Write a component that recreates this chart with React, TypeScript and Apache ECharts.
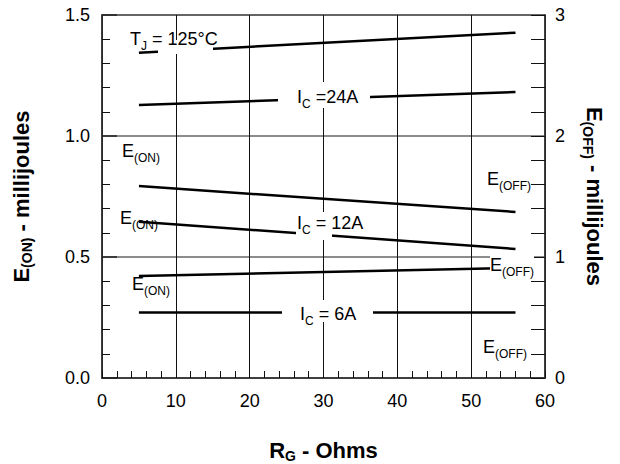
import React, { useEffect, useRef } from 'react';
import * as echarts from 'echarts';

// Gate resistance (Ohms) at the two ends of each curve
const rgOhms = [5, 56];
// Switching energy curves (left-axis millijoule scale)
const ic24Upper = [1.344, 1.427];
const ic24Lower = [1.128, 1.182];
const ic12Upper = [0.793, 0.686];
const ic12Lower = [0.646, 0.533];
const ic6Upper = [0.421, 0.455];
const ic6Lower = [0.271, 0.271];

const xTickLabels = ['0', '10', '20', '30', '40', '50', '60'];
const leftTickLabels = ['0.0', '0.5', '1.0', '1.5'];
const rightTickLabels = ['0', '1', '2', '3'];

const FONT = '"Liberation Sans", Arial, Helvetica, sans-serif';

export default function App() {
  const ref = useRef<HTMLDivElement>(null);
  useEffect(() => {
    const chart = echarts.init(ref.current as HTMLDivElement, null, { renderer: 'svg' });
    const rich: any = {
      m: { fontSize: 18, fontFamily: FONT, color: '#000', lineHeight: 28, verticalAlign: 'middle' },
      s: { fontSize: 12, fontFamily: FONT, color: '#000', lineHeight: 14, padding: [14, 0, 0, 0] },
    };
    const nameRich: any = {
      b: { fontSize: 22, fontWeight: 'bold', fontFamily: FONT, color: '#000', lineHeight: 30, verticalAlign: 'middle' },
      s: { fontSize: 14, fontWeight: 'bold', fontFamily: FONT, color: '#000', lineHeight: 16, padding: [12, 0, 0, 0] },
    };
    const mk = (name: string, vals: number[]) => ({
      type: 'line',
      name,
      data: rgOhms.map((x, i) => [x, vals[i]]),
      symbol: 'none',
      showSymbol: false,
      silent: true,
      lineStyle: { color: '#000', width: 2.5 },
      z: 3,
    });
    const label = (x: number, y: number, main: string, sub: string, rest = '', bg = false) => ({
      type: 'text',
      x,
      y,
      z: 100,
      style: {
        text: `{m|${main}}{s|${sub}}` + (rest ? `{m|${rest}}` : ''),
        rich,
        align: 'left',
        verticalAlign: 'middle',
        backgroundColor: bg ? '#fff' : 'transparent',
      },
    });
    const mask = (x: number, y: number, w: number, h: number) => ({
      type: 'rect',
      z: 50,
      shape: { x, y, width: w, height: h },
      style: { fill: '#fff' },
    });
    const tickFont = { fontSize: 18, fontFamily: FONT, color: '#000' };
    chart.setOption({
      animation: false,
      backgroundColor: '#fff',
      grid: {
        left: 102, right: 75, top: 15, bottom: 86,
        outerBoundsMode: 'none', containLabel: false,
        show: true, borderColor: '#333', borderWidth: 1.5,
      },
      xAxis: {
        type: 'value',
        min: 0,
        max: 60,
        interval: 10,
        name: '{b|R}{s|G}{b| - Ohms}',
        nameLocation: 'middle',
        nameGap: 57,
        nameTextStyle: { rich: nameRich },
        axisLine: { show: true, onZero: false, lineStyle: { color: '#333', width: 1.5 } },
        axisTick: { show: true, inside: true, length: 7, lineStyle: { color: '#111', width: 1 } },
        minorTick: { show: true, splitNumber: 5, length: 7, lineStyle: { color: '#111', width: 1 } },
        splitLine: { show: true, lineStyle: { color: '#111', width: 1 } },
        axisLabel: { ...tickFont, margin: 14, formatter: (_v: number, i: number) => xTickLabels[i] },
      },
      yAxis: [
        {
          type: 'value',
          min: 0,
          max: 1.5,
          interval: 0.5,
          name: '{b|E}{s|(ON)}{b| - millijoules}',
          nameLocation: 'middle',
          nameGap: 66,
          nameTextStyle: { rich: nameRich },
          axisLine: { show: true, onZero: false, lineStyle: { color: '#333', width: 1.5 } },
          axisTick: { show: true, inside: true, length: 15, lineStyle: { color: '#222', width: 1.5 } },
          minorTick: { show: true, splitNumber: 5, length: 8, lineStyle: { color: '#111', width: 1 } },
          splitLine: { show: true, lineStyle: { color: '#666', width: 1.5 } },
          axisLabel: { ...tickFont, margin: 12, formatter: (_v: number, i: number) => leftTickLabels[i] },
        },
        {
          type: 'value',
          min: 0,
          max: 3,
          interval: 1,
          position: 'right',
          name: '{b|E}{s|(OFF)}{b| - millijoules}',
          nameLocation: 'middle',
          nameRotate: -90,
          nameGap: 34,
          nameTextStyle: { rich: nameRich },
          axisLine: { show: true, onZero: false, lineStyle: { color: '#333', width: 1.5 } },
          axisTick: { show: true, inside: true, length: 14, lineStyle: { color: '#111', width: 1 } },
          minorTick: { show: true, splitNumber: 5, length: 14, lineStyle: { color: '#111', width: 1 } },
          splitLine: { show: false },
          axisLabel: { ...tickFont, margin: 10, formatter: (_v: number, i: number) => rightTickLabels[i] },
        },
      ],
      series: [
        mk('IC=24A upper', ic24Upper),
        mk('IC=24A lower', ic24Lower),
        mk('IC=12A upper', ic12Upper),
        mk('IC=12A lower', ic12Lower),
        mk('IC=6A upper', ic6Upper),
        mk('IC=6A lower', ic6Lower),
      ],
      graphic: [
        mask(158, 40, 55, 14),
        mask(278, 82, 92, 26),
        mask(296, 212, 36, 28),
        mask(282, 300, 91, 22),
        label(130, 39, 'T', 'J', ' = 125°C'),
        label(297, 97, 'I', 'C', ' =24A'),
        label(122, 151, 'E', '(ON)'),
        label(120, 218, 'E', '(ON)'),
        label(297, 223, 'I', 'C', ' = 12A'),
        label(487, 179, 'E', '(OFF)'),
        label(490, 265, 'E', '(OFF)', '', true),
        label(132, 284, 'E', '(ON)'),
        label(300, 314, 'I', 'C', ' = 6A'),
        label(483, 347, 'E', '(OFF)'),
      ],
    });
    return () => chart.dispose();
  }, []);
  return <div ref={ref} style={{ width: 620, height: 464, position: 'absolute', left: 0, top: 0 }} />;
}
